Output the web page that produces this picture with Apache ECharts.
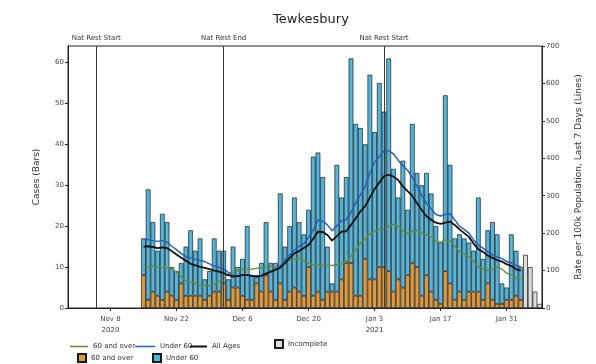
<!DOCTYPE html>
<html><head><meta charset="utf-8">
<script src="https://cdn.jsdelivr.net/npm/echarts@6/dist/echarts.min.js"></script>
<style>html,body{margin:0;padding:0;background:#fff}#c{width:596px;height:364px}</style>
</head><body><div id="c"></div>
<script>
// ---------- data ----------
const chartTitle = 'Tewkesbury';
const firstBarDate = '2020-11-15';
// daily cases, 60 and over (complete days Nov 15 .. Feb 3)
const casesOver60 = [8,2,4,3,2,4,3,2,6,3, 3,3,3,2,3,4,4,6,2,5, 5,3,2,2,6,4,8,4,2,6,
  2,4,5,4,3,10,3,4,2,4, 4,4,7,11,11,3,3,12,7,7, 10,10,9,4,7,5,8,11,10,3,
  8,4,2,1,9,6,2,4,2,4, 4,4,2,6,2,1,1,2,2,3, 2];
// daily cases, under 60
const casesUnder60 = [9,27,17,11,21,17,7,7,5,12, 16,11,14,5,6,13,10,8,5,10, 5,9,18,6,2,7,13,7,9,22,
  13,16,22,17,15,14,34,34,30,11, 2,31,20,21,50,42,41,28,50,36, 45,38,52,30,20,31,16,34,23,27,
  25,24,18,15,43,29,15,14,15,12, 10,23,10,13,19,17,5,3,16,11, 8];
// incomplete days (Feb 4 .. Feb 7)
const casesIncomplete = [13,10,4,1];
// rate per 100k, last 7 days
const rateOver60 = [110,110,112,110,108,108,104,96,84,72, 70,66,62,60,60,64,70,80,90,96,
  100,104,104,104,106,108,110,112,108,110, 122,128,130,133,126,120,116,115,114,114,
  114,116,118,124,138,155,172,185,198,206, 210,212,218,224,218,205,200,205,208,200,
  196,190,178,176,182,180,165,150,145,137, 124,110,105,101,104,110,104,93,88,80, 75];
const rateUnder60 = [184,183,180,178,180,176,165,156,146,137, 134,130,127,124,118,112,108,104,95,88,
  86,88,88,86,84,86,92,98,104,112, 128,142,155,165,172,188,208,235,232,222,
  206,220,234,236,255,280,302,325,360,390, 405,420,420,412,395,380,368,350,325,300,
  280,265,250,246,250,252,236,218,210,200, 182,168,160,150,142,137,132,124,120,114, 110];
const rateAllAges = [164,165,163,160,162,160,152,143,134,126, 118,114,110,107,104,100,97,93,88,84,
  85,88,88,86,84,86,92,97,102,108, 120,134,146,152,160,168,185,204,203,195,
  180,192,204,205,222,240,258,272,295,318, 335,352,356,351,342,325,312,300,280,262,
  245,236,228,225,228,231,222,210,200,190, 172,157,150,140,134,128,124,117,112,104, 100];
const xTickDates = ['2020-11-08','2020-11-22','2020-12-06','2020-12-20','2021-01-03','2021-01-17','2021-01-31'];
const xTickLabels = ['Nov 8\n2020','Nov 22','Dec 6','Dec 20','Jan 3\n2021','Jan 17','Jan 31'];
const eventDates = ['2020-11-05','2020-12-02','2021-01-05'];
const eventLabels = ['Nat Rest Start','Nat Rest End','Nat Rest Start'];
const leftTicks = [0,10,20,30,40,50,60];
const xStart = '2020-10-30';
const xEndHalfDays = 201; // axis ends half a day after Feb 7

// ---------- build ----------
const DAY = 86400000, HALF = DAY/2;
function ts(s){const p=s.split('-').map(Number);return Date.UTC(p[0],p[1]-1,p[2]);}
function key(t){const d=new Date(t);return d.toISOString().slice(0,13);}
const tStart = ts(xStart);
// half-day slots along the x axis (categories)
const slots = [];
for (let k=0;k<=xEndHalfDays;k++) slots.push(key(tStart + k*HALF));
const slotOf = t => Math.round((t - tStart)/HALF);
const nComplete = casesOver60.length;
const nAll = nComplete + casesIncomplete.length;
const firstSlot = slotOf(ts(firstBarDate));
const tickSlots = xTickDates.map(d=>slotOf(ts(d)));

const FONT = 'DejaVu Sans';
const C_OVER = '#dd9a3e', C_UNDER = '#55b6dc', C_INC = '#dedede';
const L_OVER = '#5f8f2e', L_UNDER = '#2361b8', L_ALL = '#111';
const barBorder = {borderColor:'#1a1a1a', borderWidth:0.7};

function barArray(getter){
  const a = slots.map(()=> '-');
  for (let i=0;i<nAll;i++){ const v = getter(i); if (v!=null) a[firstSlot + 2*i] = v; }
  return a;
}
const over = barArray(i=> i<nComplete ? casesOver60[i] : null);
const under = barArray(i=> i<nComplete ? casesUnder60[i] : null);
const inc = barArray(i=> i>=nComplete ? casesIncomplete[i-nComplete] : null);
const lineData = arr => arr.map((v,i)=>[firstSlot + 2*i, v]);

function lg(name, left, top, w, h){
  return {data:[{name:name, icon:'rect'}], left:left, top:top, orient:'horizontal',
    itemWidth:w, itemHeight:h, itemGap:0, selectedMode:false,
    textStyle:{fontFamily:FONT,fontSize:7,color:'#333'}, padding:0};
}

const option = {
  animation:false,
  backgroundColor:'#fff',
  title:{text:chartTitle, left:306, top:8, textAlign:'center',
    textStyle:{fontFamily:FONT,fontSize:13,fontWeight:'normal',color:'#222'}},
  grid:{left:68, right:54, top:46, bottom:56, show:true, borderColor:'#222', borderWidth:1},
  legend:[
    lg('60 and over', 70, 343, 18, 1.5),
    lg('Under 60', 135, 343, 20, 1.5),
    lg('All Ages', 190, 343, 17, 2),
    lg('Incomplete', 274, 339, 8, 8),
    lg('60 and over ', 77, 353, 8, 8),
    lg('Under 60 ', 152, 353, 8, 8)
  ],
  xAxis:{type:'category', data:slots, boundaryGap:false,
    axisLine:{show:true,lineStyle:{color:'#222',width:1}},
    axisTick:{show:true, length:3, interval:(idx)=>tickSlots.indexOf(idx)>=0, lineStyle:{color:'#222'}},
    splitLine:{show:false},
    axisLabel:{interval:(idx)=>tickSlots.indexOf(idx)>=0, margin:6, fontFamily:FONT, fontSize:7, color:'#444', lineHeight:11,
      formatter:(v,idx)=>{const k=tickSlots.indexOf(idx);return k>=0?xTickLabels[k]:'';}}},
  yAxis:[
    {type:'value', min:0, max:64.05, position:'left',
      name:'Cases (Bars)', nameLocation:'middle', nameGap:27, nameRotate:90,
      nameTextStyle:{fontFamily:FONT,fontSize:9,color:'#333'},
      axisLine:{show:true,lineStyle:{color:'#222'}},
      axisTick:{show:true,length:3,customValues:leftTicks,lineStyle:{color:'#222'}},
      axisLabel:{customValues:leftTicks, margin:4, fontFamily:FONT,fontSize:7,color:'#444'},
      splitLine:{show:false}},
    {type:'value', min:0, max:700, interval:100, position:'right',
      name:'Rate per 100k Population, Last 7 Days (Lines)', nameLocation:'middle', nameGap:32, nameRotate:90,
      nameTextStyle:{fontFamily:FONT,fontSize:9,color:'#333'},
      axisLine:{show:true,lineStyle:{color:'#222'}},
      axisTick:{show:true,length:3,lineStyle:{color:'#222'}},
      axisLabel:{margin:4, fontFamily:FONT,fontSize:7,color:'#444'},
      splitLine:{show:false}}
  ],
  series:[
    {name:'60 and over ', type:'bar', stack:'cases', data:over, barWidth:4.7,
      itemStyle:Object.assign({color:C_OVER}, barBorder)},
    {name:'Under 60 ', type:'bar', stack:'cases', data:under, barWidth:4.7,
      itemStyle:Object.assign({color:C_UNDER}, barBorder)},
    {name:'Incomplete', type:'bar', stack:'cases', data:inc, barWidth:4.7,
      itemStyle:Object.assign({color:C_INC}, barBorder),
      markLine:{silent:true, symbol:['none','none'], animation:false,
        lineStyle:{color:'#3a3a3a', width:1, type:'solid'},
        label:{show:true, position:'end', distance:4, fontFamily:FONT, fontSize:7, color:'#333'},
        data:eventDates.map((d,k)=>({xAxis:slots[slotOf(ts(d))], label:{formatter:eventLabels[k]}}))}},
    {name:'60 and over', type:'line', yAxisIndex:1, data:lineData(rateOver60), symbol:'none',
      lineStyle:{color:L_OVER,width:1.3}, itemStyle:{color:L_OVER}, z:3},
    {name:'Under 60', type:'line', yAxisIndex:1, data:lineData(rateUnder60), symbol:'none',
      lineStyle:{color:L_UNDER,width:1.5}, itemStyle:{color:L_UNDER}, z:4},
    {name:'All Ages', type:'line', yAxisIndex:1, data:lineData(rateAllAges), symbol:'none',
      lineStyle:{color:L_ALL,width:1.8}, itemStyle:{color:L_ALL}, z:5}
  ]
};
const chart = echarts.init(document.getElementById('c'), null, {renderer:'canvas'});
chart.setOption(option);
</script>
</body></html>
